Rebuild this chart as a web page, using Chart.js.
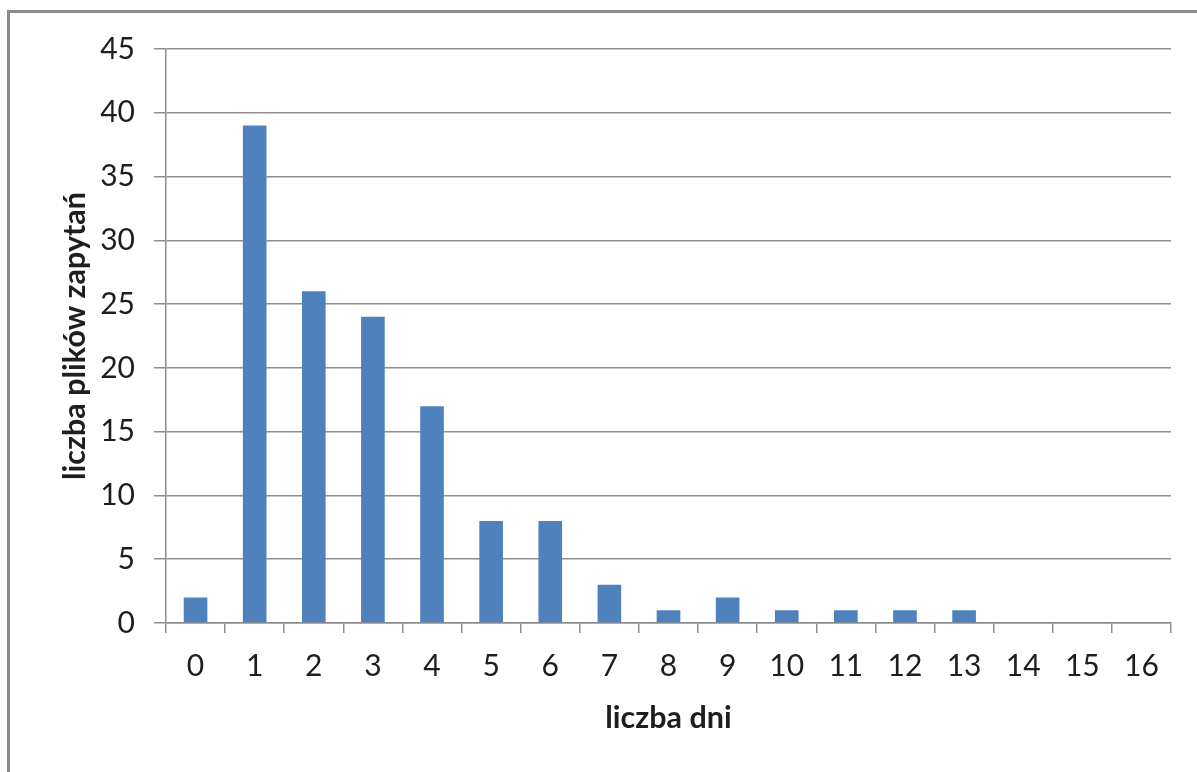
<!DOCTYPE html>
<html>
<head>
<meta charset="utf-8">
<script src="https://cdn.jsdelivr.net/npm/chart.js@4"></script>
<style>
  html, body { margin: 0; padding: 0; background: #fff; overflow: hidden; }
  #wrap { position: relative; width: 1197px; height: 772px; }
  #frame {
    position: absolute; left: 7px; top: 10px; width: 1300px; height: 900px;
    border-left: 3px solid #8a8a8a; border-top: 3px solid #8a8a8a;
    pointer-events: none;
  }
  canvas { position: absolute; left: 0; top: 0; }
</style>
</head>
<body>
<div id="wrap">
  <canvas id="chart" width="1197" height="772"></canvas>
  <div id="frame"></div>
</div>
<script>
  // liczba dni -> liczba plików zapytań
  const days = ['0', '1', '2', '3', '4', '5', '6', '7', '8', '9', '10', '11', '12', '13', '14', '15', '16'];
  const fileCounts = [2, 39, 26, 24, 17, 8, 8, 3, 1, 2, 1, 1, 1, 1, 0, 0, 0];
  const yTicks = [0, 5, 10, 15, 20, 25, 30, 35, 40, 45];

  const FONT = 'Lato, "Liberation Sans", sans-serif';
  const TEXT = '#1e1e1e';
  const GRID = '#8e8e8e';

  new Chart(document.getElementById('chart'), {
    type: 'bar',
    data: {
      labels: days,
      datasets: [{
        label: 'liczba plików zapytań',
        data: fileCounts,
        backgroundColor: '#4F81BD',
        barPercentage: 0.4,
        categoryPercentage: 1.0
      }]
    },
    options: {
      responsive: false,
      animation: false,
      devicePixelRatio: 1,
      layout: { padding: { top: 49, right: 26, bottom: 0, left: 0 } },
      plugins: { legend: { display: false }, tooltip: { enabled: false } },
      scales: {
        x: {
          grid: {
            offset: true,
            drawOnChartArea: false,
            drawTicks: true,
            tickLength: 10,
            color: GRID,
            lineWidth: 1.5
          },
          border: { display: true, color: GRID, width: 1.5 },
          ticks: {
            color: TEXT,
            font: { family: FONT, size: 30 },
            padding: 15,
            maxRotation: 0,
            autoSkip: false
          },
          title: {
            display: true,
            text: 'liczba dni',
            color: TEXT,
            font: { family: FONT, size: 30.5, weight: 'bold' },
            padding: { top: 0, bottom: 36 }
          },
          afterFit: function (scale) { scale.height = 149; }
        },
        y: {
          min: 0,
          max: 45,
          afterBuildTicks: function (scale) {
            scale.ticks = yTicks.map(v => ({ value: v }));
          },
          grid: {
            color: GRID,
            lineWidth: 1.5,
            drawTicks: true,
            tickLength: 12
          },
          border: { display: true, color: GRID, width: 1.5 },
          ticks: {
            color: TEXT,
            font: { family: FONT, size: 30 },
            padding: 19
          },
          title: {
            display: true,
            text: 'liczba plików zapytań',
            color: TEXT,
            font: { family: FONT, size: 30.5, weight: 'bold' },
            padding: { top: 57, bottom: 0 }
          },
          afterFit: function (scale) { scale.width = 166; }
        }
      }
    }
  });
</script>
</body>
</html>
